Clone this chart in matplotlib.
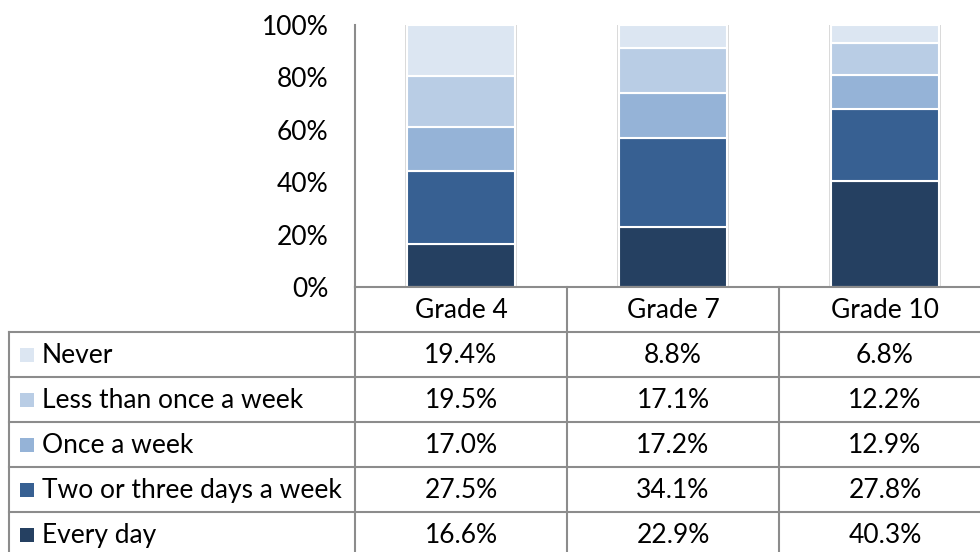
import matplotlib
matplotlib.use("Agg")
import matplotlib.pyplot as plt
from matplotlib.patches import Rectangle
import numpy as np

# Data
grades = ["Grade 4", "Grade 7", "Grade 10"]
categories = ["Never", "Less than once a week", "Once a week",
              "Two or three days a week", "Every day"]
never = [19.4, 8.8, 6.8]
less_than_weekly = [19.5, 17.1, 12.2]
once_a_week = [17.0, 17.2, 12.9]
two_three_days = [27.5, 34.1, 27.8]
every_day = [16.6, 22.9, 40.3]
colors = ["#DCE6F2", "#B9CDE5", "#95B3D7", "#376092", "#254061"]

series = [never, less_than_weekly, once_a_week, two_three_days, every_day]

plt.rcParams["font.family"] = ["Lato", "DejaVu Sans"]
FS = 19
GRID = "#8c8c8c"

W, H = 980, 552
fig = plt.figure(figsize=(W / 100, H / 100), dpi=100)

# layout (pixels)
col_left, col_w = 355, 212
plot_top, plot_bot = 25, 287
row_h = 45
tab_left = 9

# Bar axes
ax = fig.add_axes([col_left / W, (H - plot_bot) / H,
                   3 * col_w / W, (plot_bot - plot_top) / H])
x = np.arange(len(grades)) + 0.5
bottom = np.zeros(len(grades))
# stack from bottom: Every day first
for vals, c in zip(series[::-1], colors[::-1]):
    ax.bar(x, vals, width=0.51, bottom=bottom, color=c,
           edgecolor="white", linewidth=1.5, zorder=3)
    bottom += np.array(vals)
# soft shadow around each bar
for xi, tot in zip(x, bottom):
    ax.add_patch(Rectangle((xi - 0.262, 0), 0.524, tot + 0.4,
                           facecolor="#d9d9d9", edgecolor="none", zorder=2))
ax.set_xlim(0, 3)
ax.set_ylim(0, 100)
ax.set_yticks(np.arange(0, 101, 20))
ax.set_yticklabels([f"{v}%" for v in range(0, 101, 20)], fontsize=FS)
ax.tick_params(axis="y", length=0, pad=19)
ax.set_xticks([])
for s in ["top", "right", "bottom"]:
    ax.spines[s].set_visible(False)
ax.spines["left"].set_color(GRID)
ax.spines["left"].set_linewidth(1.5)

# Table overlay in pixel coordinates
tx = fig.add_axes([0, 0, 1, 1])
tx.set_xlim(0, W)
tx.set_ylim(H, 0)
tx.axis("off")
right = col_left + 3 * col_w
n_rows = len(categories)
bottom_px = plot_bot + row_h * (n_rows + 1)

# horizontal lines
tx.plot([col_left, right], [plot_bot, plot_bot], color=GRID, lw=1.5)
for i in range(1, n_rows + 2):
    y = plot_bot + row_h * i
    tx.plot([tab_left, right], [y, y], color=GRID, lw=1.5)
# vertical lines
tx.plot([tab_left, tab_left], [plot_bot + row_h, bottom_px], color=GRID, lw=1.5)
for j in range(4):
    xx = col_left + col_w * j
    tx.plot([xx, xx], [plot_bot, bottom_px], color=GRID, lw=1.5)

# header
for j, g in enumerate(grades):
    tx.text(col_left + col_w * (j + 0.5), plot_bot + row_h / 2 + 1, g,
            ha="center", va="center", fontsize=FS)

# rows
for i, (cat, vals, c) in enumerate(zip(categories, series, colors)):
    yc = plot_bot + row_h * (i + 1.5)
    tx.add_patch(Rectangle((20, yc - 7), 14, 14, facecolor=c, edgecolor="none"))
    tx.text(42, yc + 1, cat, ha="left", va="center", fontsize=FS)
    for j, v in enumerate(vals):
        tx.text(col_left + col_w * (j + 0.5), yc + 1, f"{v:.1f}%",
                ha="center", va="center", fontsize=FS)

fig.savefig("out.png", dpi=100)
